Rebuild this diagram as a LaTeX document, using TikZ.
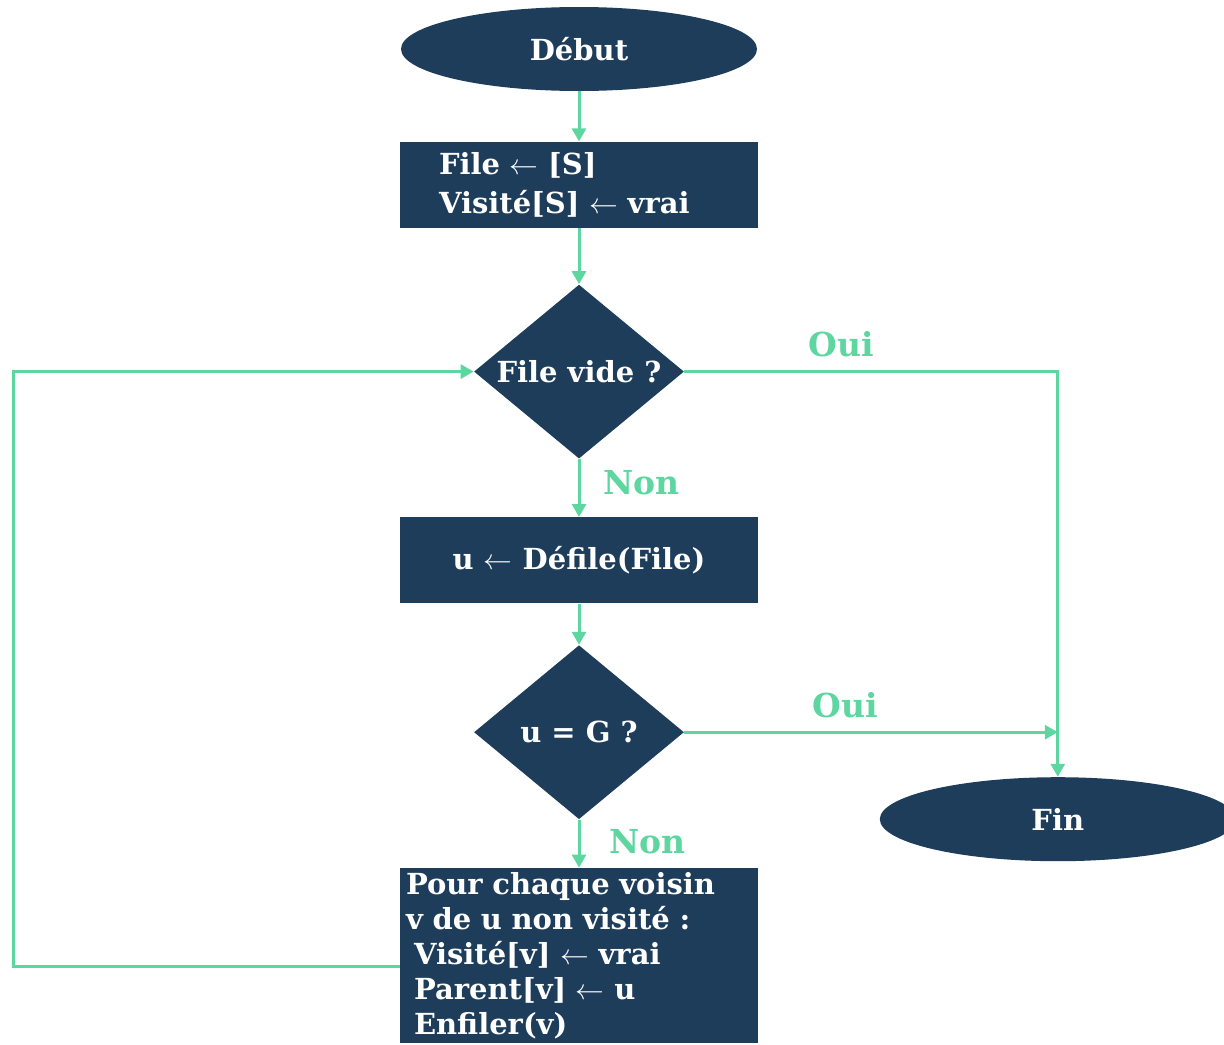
\documentclass[tikz,border=0pt]{standalone}
\usepackage{fontspec}
\setmainfont{DejaVu Serif}
\usepackage{tikz}
\usetikzlibrary{arrows.meta,positioning,shapes.geometric}

\definecolor{navy}{RGB}{29,61,91}
\definecolor{mint}{RGB}{94,214,160}

\begin{document}
\begin{tikzpicture}[
    font=\bfseries\fontsize{14.5}{17.5}\selectfont,
    >={Triangle[length=6.5pt,width=7pt]},
    terminal/.style={ellipse, fill=navy, text=white, minimum width=178pt,
                     minimum height=42pt, inner sep=0pt},
    action/.style={rectangle, fill=navy, text=white, minimum width=179pt,
                   minimum height=43pt},
    test/.style={diamond, fill=navy, text=white, aspect=1.2, inner sep=0pt,
                 minimum width=105pt, minimum height=87pt},
    flow/.style={draw=mint, line width=1.5pt},
    answer/.style={text=mint, font=\bfseries\fontsize{16.5}{18}\selectfont},
]

% page frame, top-left corner at the origin
\useasboundingbox (0,0) rectangle (612pt,-522pt);
\clip (0,0) rectangle (612pt,-522pt);

% --- main column ---
\node[terminal] (debut) at (289.5pt,-24.5pt) {Début};
\node[action, below=25pt of debut, align=left, text width=140pt,
      inner xsep=19.5pt] (init) {File $\leftarrow$ [S]\\[2pt]
                                 Visité[S] $\leftarrow$ vrai};
\node[test, below=28pt of init]  (empty) {File vide ?};
\node[action, below=29pt of empty] (pop) {u $\leftarrow$ Défile(File)};
\node[test, below=20.5pt of pop]  (goal) {u = G ?};
\node[action, below=24pt of goal, align=left, text width=173pt,
      inner xsep=3pt, inner ysep=2pt] (expand)
     {Pour chaque voisin\\
      v de u non visité :\\
      \hspace*{4pt}Visité[v] $\leftarrow$ vrai\\
      \hspace*{4pt}Parent[v] $\leftarrow$ u\\
      \hspace*{4pt}Enfiler(v)};

% --- end of the search (right) ---
\node[terminal, right=97.5pt of goal, yshift=-43.5pt] (fin) {Fin};

% left rail of the loop
\coordinate (back) at (6.5pt,0);

% straight flow down the column
\draw[flow,->] (debut) -- (init);
\draw[flow,->] (init)  -- (empty);
\draw[flow,->] (empty) -- node[answer, right=8pt, pos=0.4] {Non} (pop);
\draw[flow,->] (pop)   -- (goal);
\draw[flow,->] (goal)  -- node[answer, right=11pt, pos=0.45] {Non} (expand);

% both "Oui" exits lead to Fin
\draw[flow,->] (empty.east) -| node[answer, pos=0.21, above=3pt] {Oui} (fin.north);
\draw[flow,->] (goal.east) -- node[answer, pos=0.43, above=3pt] {Oui} (goal.east -| fin.north);

% back to the test once the neighbours are queued
\draw[flow,->] ([yshift=-5.5pt]expand.west) -- ([yshift=-5.5pt]expand.west -| back)
               |- (empty.west);

\end{tikzpicture}
\end{document}
